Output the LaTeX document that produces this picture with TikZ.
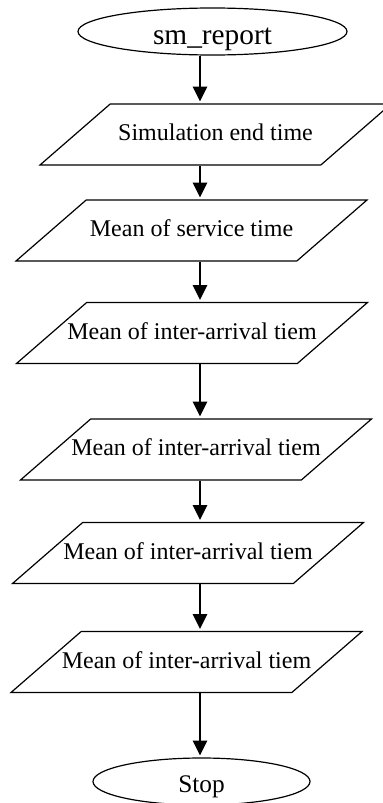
\documentclass[tikz,border=0pt]{standalone}
\usepackage{fontspec}
\setmainfont{Liberation Serif}
\usetikzlibrary{shapes.geometric,arrows.meta}

\begin{document}
\begin{tikzpicture}[x=0.75pt,y=-0.75pt,
  term/.style={shape=ellipse, draw, line width=0.9pt, inner sep=0pt, minimum height=35.25pt, text depth=0pt},
  io/.style={shape=trapezium, draw, line width=0.9pt, trapezium left angle=41, trapezium right angle=139,
    trapezium stretches body, minimum width=263.25pt, minimum height=45.75pt,
    inner xsep=-15pt, inner ysep=14.375pt, text height=13pt, text depth=4pt,
    font=\fontsize{18}{20}\selectfont},
  flow/.style={line width=1.5pt, -{Triangle[width=10.5pt,length=11pt]}, shorten >=1.5pt}]
\useasboundingbox (0,0) rectangle (382,803);
% all arrows run down this line
\coordinate (spine) at (200,0);
\node[term, minimum width=201.75pt, text height=20pt, font=\fontsize{22}{24}\selectfont] (start) at (212.5,31.5) {sm\_report};
\node[io] (p1) at (215.5,134.5) {Simulation end time};
\node[io] (p2) at (191.5,230.5) {Mean of service time};
\node[io] (p3) at (192,333) {Mean of inter-arrival tiem};
\node[io] (p4) at (196,449.5) {Mean of inter-arrival tiem};
\node[io] (p5) at (188,553) {Mean of inter-arrival tiem};
\node[io] (p6) at (186.5,662) {Mean of inter-arrival tiem};
\node[term, minimum width=162.75pt, text height=17pt, font=\fontsize{19}{21}\selectfont] (stop) at (201.5,781.5) {Stop};
\path[flow]
(start.south -| spine) edge (p1.north -| spine)
(p1.south -| spine) edge (p2.north -| spine)
(p2.south -| spine) edge (p3.north -| spine)
(p3.south -| spine) edge (p4.north -| spine)
(p4.south -| spine) edge (p5.north -| spine)
(p5.south -| spine) edge (p6.north -| spine)
(p6.south -| spine) edge (stop.north -| spine);
\end{tikzpicture}
\end{document}
